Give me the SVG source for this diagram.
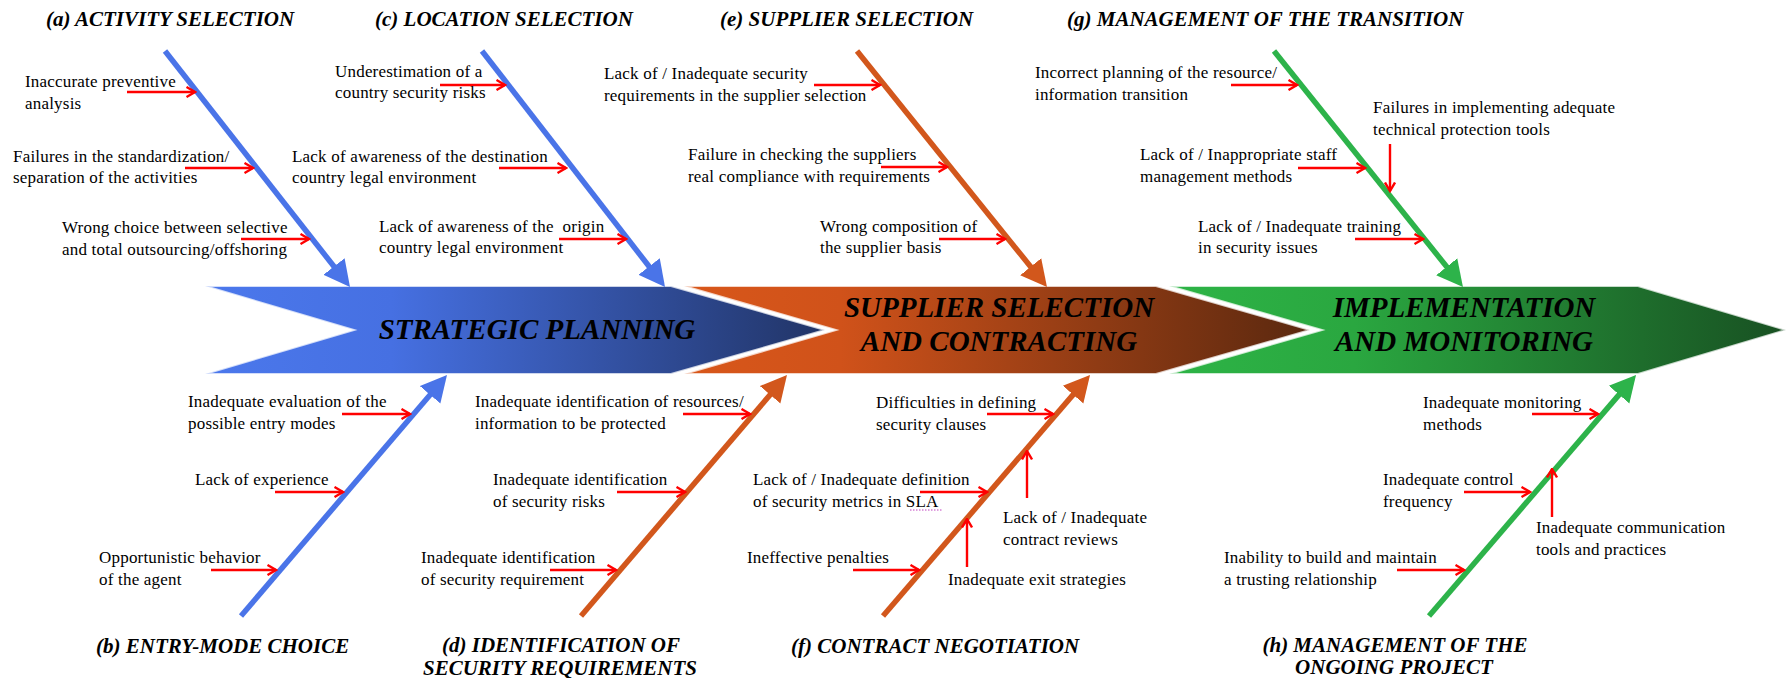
<svg xmlns="http://www.w3.org/2000/svg" width="1788" height="678" viewBox="0 0 1788 678">
  <defs>
    <linearGradient id="gBlue" gradientUnits="userSpaceOnUse" x1="205" y1="0" x2="825" y2="0">
      <stop offset="0" stop-color="#4b78ec"/>
      <stop offset="0.3" stop-color="#4670e2"/>
      <stop offset="1" stop-color="#213466"/>
    </linearGradient>
    <linearGradient id="gOrange" gradientUnits="userSpaceOnUse" x1="684" y1="0" x2="1310" y2="0">
      <stop offset="0" stop-color="#d8571a"/>
      <stop offset="0.25" stop-color="#d0521a"/>
      <stop offset="1" stop-color="#5a280f"/>
    </linearGradient>
    <linearGradient id="gGreen" gradientUnits="userSpaceOnUse" x1="1169" y1="0" x2="1786" y2="0">
      <stop offset="0" stop-color="#2db446"/>
      <stop offset="0.3" stop-color="#2aa740"/>
      <stop offset="1" stop-color="#185022"/>
    </linearGradient>
    <marker id="hBlue" markerUnits="userSpaceOnUse" viewBox="-8 -14 27 28" markerWidth="27" markerHeight="28" refX="0" refY="0" orient="auto">
      <path d="M-8,-13.5 L18,0 L-8,13.5 z" fill="#4a74e8"/>
    </marker>
    <marker id="hOrange" markerUnits="userSpaceOnUse" viewBox="-8 -14 27 28" markerWidth="27" markerHeight="28" refX="0" refY="0" orient="auto">
      <path d="M-8,-13.5 L18,0 L-8,13.5 z" fill="#d2571c"/>
    </marker>
    <marker id="hGreen" markerUnits="userSpaceOnUse" viewBox="-8 -14 27 28" markerWidth="27" markerHeight="28" refX="0" refY="0" orient="auto">
      <path d="M-8,-13.5 L18,0 L-8,13.5 z" fill="#2db34a"/>
    </marker>
    <marker id="hRed" markerUnits="userSpaceOnUse" viewBox="0 0 11 12" markerWidth="11" markerHeight="12" refX="9.5" refY="6" orient="auto">
      <path d="M1,1 L9.5,6 L1,11" fill="none" stroke="#ff0000" stroke-width="2.4"/>
    </marker>
  </defs>
  <style>
    text { font-family: "Liberation Serif", "Noto Serif", "DejaVu Serif", serif; fill: #000; }
    .stage { stroke: #ffffff; stroke-opacity: 0.75; stroke-width: 2; }
    .stageText { font-weight: bold; font-style: italic; font-size: 29px; text-anchor: middle; }
    .title { font-weight: bold; font-style: italic; font-size: 21px; }
    .cause { font-size: 17px; letter-spacing: 0.2px; }
    .bone { fill: none; stroke-width: 5.5; }
    .blue { stroke: #4a74e8; marker-end: url(#hBlue); }
    .orange { stroke: #d2571c; marker-end: url(#hOrange); }
    .green { stroke: #2db34a; marker-end: url(#hGreen); }
    .cue { fill: none; stroke: #ff0000; stroke-width: 2.4; marker-end: url(#hRed); }
  </style>

  <rect x="0" y="0" width="1788" height="678" fill="#ffffff"/>

  <!-- main process spine: three chevrons -->
  <g id="stage-strategic-planning">
    <polygon class="stage" fill="url(#gBlue)" points="205,286 671,286 825,330 671,374 205,374 354,330"/>
    <text class="stageText" x="537" y="339">STRATEGIC PLANNING</text>
  </g>
  <g id="stage-supplier-selection">
    <polygon class="stage" fill="url(#gOrange)" points="684,286 1156,286 1310,330 1156,374 684,374 836,330"/>
    <text class="stageText" x="999" y="317">SUPPLIER SELECTION</text>
    <text class="stageText" x="999" y="351">AND CONTRACTING</text>
  </g>
  <g id="stage-implementation">
    <polygon class="stage" fill="url(#gGreen)" points="1169,286 1638,286 1786,330 1638,374 1169,374 1322,330"/>
    <text class="stageText" x="1464" y="317">IMPLEMENTATION</text>
    <text class="stageText" x="1464" y="351">AND MONITORING</text>
  </g>

  <!-- bones and cause arrows -->
  <g id="connectors">
    <line class="bone blue" x1="165" y1="51" x2="338.9" y2="272.8"/>
    <line class="bone blue" x1="482" y1="51" x2="654" y2="272.8"/>
    <line class="bone orange" x1="857" y1="51" x2="1035.7" y2="273"/>
    <line class="bone green" x1="1274" y1="51" x2="1451.7" y2="273"/>
    <line class="bone blue" x1="241" y1="616" x2="435.3" y2="388.7"/>
    <line class="bone orange" x1="581" y1="616" x2="775.3" y2="388.7"/>
    <line class="bone orange" x1="883" y1="616" x2="1078.3" y2="388.6"/>
    <line class="bone green" x1="1429" y1="616" x2="1624.3" y2="388.6"/>

    <!-- (a) -->
    <line class="cue" x1="127" y1="92" x2="195" y2="92"/>
    <line class="cue" x1="185" y1="168" x2="253" y2="168"/>
    <line class="cue" x1="241" y1="239" x2="309" y2="239"/>
    <!-- (c) -->
    <line class="cue" x1="440" y1="85" x2="505" y2="85"/>
    <line class="cue" x1="499" y1="168" x2="566" y2="168"/>
    <line class="cue" x1="559" y1="239" x2="626" y2="239"/>
    <!-- (e) -->
    <line class="cue" x1="814" y1="85" x2="880" y2="85"/>
    <line class="cue" x1="881" y1="167" x2="947" y2="167"/>
    <line class="cue" x1="939" y1="239" x2="1005" y2="239"/>
    <!-- (g) -->
    <line class="cue" x1="1231" y1="85" x2="1297" y2="85"/>
    <line class="cue" x1="1298" y1="168" x2="1365" y2="168"/>
    <line class="cue" x1="1355" y1="239" x2="1423" y2="239"/>
    <line class="cue" x1="1390" y1="144" x2="1390" y2="191"/>
    <!-- (b) -->
    <line class="cue" x1="342" y1="414" x2="410" y2="414"/>
    <line class="cue" x1="275" y1="492" x2="343" y2="492"/>
    <line class="cue" x1="211" y1="570" x2="276" y2="570"/>
    <!-- (d) -->
    <line class="cue" x1="683" y1="414" x2="750" y2="414"/>
    <line class="cue" x1="617" y1="492" x2="685" y2="492"/>
    <line class="cue" x1="550" y1="570" x2="616" y2="570"/>
    <!-- (f) -->
    <line class="cue" x1="987" y1="414" x2="1053" y2="414"/>
    <line class="cue" x1="920" y1="492" x2="987" y2="492"/>
    <line class="cue" x1="853" y1="570" x2="919" y2="570"/>
    <line class="cue" x1="967" y1="567" x2="967" y2="519"/>
    <line class="cue" x1="1027" y1="498" x2="1027" y2="451"/>
    <!-- (h) -->
    <line class="cue" x1="1532" y1="414" x2="1598" y2="414"/>
    <line class="cue" x1="1464" y1="492" x2="1530" y2="492"/>
    <line class="cue" x1="1397" y1="570" x2="1464" y2="570"/>
    <line class="cue" x1="1552" y1="517" x2="1552" y2="469"/>
  </g>

  <g id="cat-a-activity-selection">
    <text class="title" x="46" y="26">(a) ACTIVITY SELECTION</text>
    <text class="cause" x="25" y="87">Inaccurate preventive</text>
    <text class="cause" x="25" y="109">analysis</text>
    <text class="cause" x="13" y="162">Failures in the standardization/</text>
    <text class="cause" x="13" y="183">separation of the activities</text>
    <text class="cause" x="62" y="233">Wrong choice between selective</text>
    <text class="cause" x="62" y="255">and total outsourcing/offshoring</text>
  </g>

  <g id="cat-c-location-selection">
    <text class="title" x="375" y="26">(c) LOCATION SELECTION</text>
    <text class="cause" x="335" y="77">Underestimation of a</text>
    <text class="cause" x="335" y="98">country security risks</text>
    <text class="cause" x="292" y="162">Lack of awareness of the destination</text>
    <text class="cause" x="292" y="183">country legal environment</text>
    <text class="cause" x="379" y="232" xml:space="preserve">Lack of awareness of the  origin</text>
    <text class="cause" x="379" y="253">country legal environment</text>
  </g>

  <g id="cat-e-supplier-selection">
    <text class="title" x="720" y="26">(e) SUPPLIER SELECTION</text>
    <text class="cause" x="604" y="79">Lack of / Inadequate security</text>
    <text class="cause" x="604" y="101">requirements in the supplier selection</text>
    <text class="cause" x="688" y="160">Failure in checking the suppliers</text>
    <text class="cause" x="688" y="182">real compliance with requirements</text>
    <text class="cause" x="820" y="232">Wrong composition of</text>
    <text class="cause" x="820" y="253">the supplier basis</text>
  </g>

  <g id="cat-g-transition">
    <text class="title" x="1067" y="26">(g) MANAGEMENT OF THE TRANSITION</text>
    <text class="cause" x="1035" y="78">Incorrect planning of the resource/</text>
    <text class="cause" x="1035" y="100">information transition</text>
    <text class="cause" x="1140" y="160">Lack of / Inappropriate staff</text>
    <text class="cause" x="1140" y="182">management methods</text>
    <text class="cause" x="1198" y="232">Lack of / Inadequate training</text>
    <text class="cause" x="1198" y="253">in security issues</text>
    <text class="cause" x="1373" y="113">Failures in implementing adequate</text>
    <text class="cause" x="1373" y="135">technical protection tools</text>
  </g>

  <g id="cat-b-entry-mode">
    <text class="title" x="96" y="653">(b) ENTRY-MODE CHOICE</text>
    <text class="cause" x="188" y="407">Inadequate evaluation of the</text>
    <text class="cause" x="188" y="429">possible entry modes</text>
    <text class="cause" x="195" y="485">Lack of experience</text>
    <text class="cause" x="99" y="563">Opportunistic behavior</text>
    <text class="cause" x="99" y="585">of the agent</text>
  </g>

  <g id="cat-d-security-requirements">
    <text class="title" x="561" y="652" text-anchor="middle">(d) IDENTIFICATION OF</text>
    <text class="title" x="560" y="675" text-anchor="middle">SECURITY REQUIREMENTS</text>
    <text class="cause" x="475" y="407">Inadequate identification of resources/</text>
    <text class="cause" x="475" y="429">information to be protected</text>
    <text class="cause" x="493" y="485">Inadequate identification</text>
    <text class="cause" x="493" y="507">of security risks</text>
    <text class="cause" x="421" y="563">Inadequate identification</text>
    <text class="cause" x="421" y="585">of security requirement</text>
  </g>

  <g id="cat-f-contract-negotiation">
    <text class="title" x="791" y="653">(f) CONTRACT NEGOTIATION</text>
    <text class="cause" x="876" y="408">Difficulties in defining</text>
    <text class="cause" x="876" y="430">security clauses</text>
    <text class="cause" x="753" y="485">Lack of / Inadequate definition</text>
    <text class="cause" x="753" y="507">of security metrics in SLA</text>
    <line x1="910" y1="510" x2="943" y2="510" stroke="#c040c0" stroke-width="1" stroke-dasharray="1.5,1.5"/>
    <text class="cause" x="747" y="563">Ineffective penalties</text>
    <text class="cause" x="948" y="585">Inadequate exit strategies</text>
    <text class="cause" x="1003" y="523">Lack of / Inadequate</text>
    <text class="cause" x="1003" y="545">contract reviews</text>
  </g>

  <g id="cat-h-ongoing-project">
    <text class="title" x="1395" y="652" text-anchor="middle">(h) MANAGEMENT OF THE</text>
    <text class="title" x="1394" y="674" text-anchor="middle">ONGOING PROJECT</text>
    <text class="cause" x="1423" y="408">Inadequate monitoring</text>
    <text class="cause" x="1423" y="430">methods</text>
    <text class="cause" x="1383" y="485">Inadequate control</text>
    <text class="cause" x="1383" y="507">frequency</text>
    <text class="cause" x="1224" y="563">Inability to build and maintain</text>
    <text class="cause" x="1224" y="585">a trusting relationship</text>
    <text class="cause" x="1536" y="533">Inadequate communication</text>
    <text class="cause" x="1536" y="555">tools and practices</text>
  </g>
</svg>
